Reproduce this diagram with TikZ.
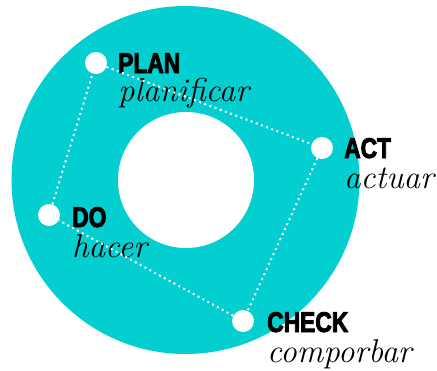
\documentclass[tikz,border=0pt]{standalone}
\usepackage{fontspec}
\usepackage{xcolor}
\usetikzlibrary{positioning}
\newfontfamily\headfont[FakeStretch=0.8,FakeBold=3]{Liberation Sans Bold}
\definecolor{ringcyan}{RGB}{3,206,208}

\begin{document}
\begin{tikzpicture}[x=1pt,y=-1pt,
                    main node/.style={circle,fill=white,inner sep=0pt,minimum size=22pt},
                    head/.style={font=\headfont\fontsize{28.5}{30}\selectfont,anchor=base west,inner sep=0pt},
                    sub/.style={font=\itshape\fontsize{33}{36}\selectfont,anchor=base west,inner sep=0pt},
                    dot line/.style={draw=white,line width=2pt,dash pattern=on 2pt off 3.5pt}]

  \useasboundingbox (0,0) rectangle (437,370);

  % ring
  \fill[ringcyan] (185.5,180) circle (174pt);
  \fill[white] (186,180) circle (68pt);

  \node[main node] (plan) at (96,63) {};
  \node[main node] (act) at (322,148) {};
  \node[main node] (do) at (49,215) {};
  \node[main node] (check) at (243,321) {};

  \node[head] (plan head) at (118,73) {PLAN};
  \node[sub] (plan sub) at (118,101) {planificar};
  \node[head] (act head) at (344,158) {ACT};
  \node[sub] (act sub) at (344,188) {actuar};
  \node[head] (do head) at (72,227) {DO};
  \node[sub] (do sub) at (72,257) {hacer};
  \node[head] (check head) at (267,332) {CHECK};
  \node[sub] (check sub) at (267,362) {comporbar};

  \path[dot line]
  (plan) edge (act)
  (act) edge (check)
  (check) edge (do)
  (do) edge (plan);

\end{tikzpicture}
\end{document}
